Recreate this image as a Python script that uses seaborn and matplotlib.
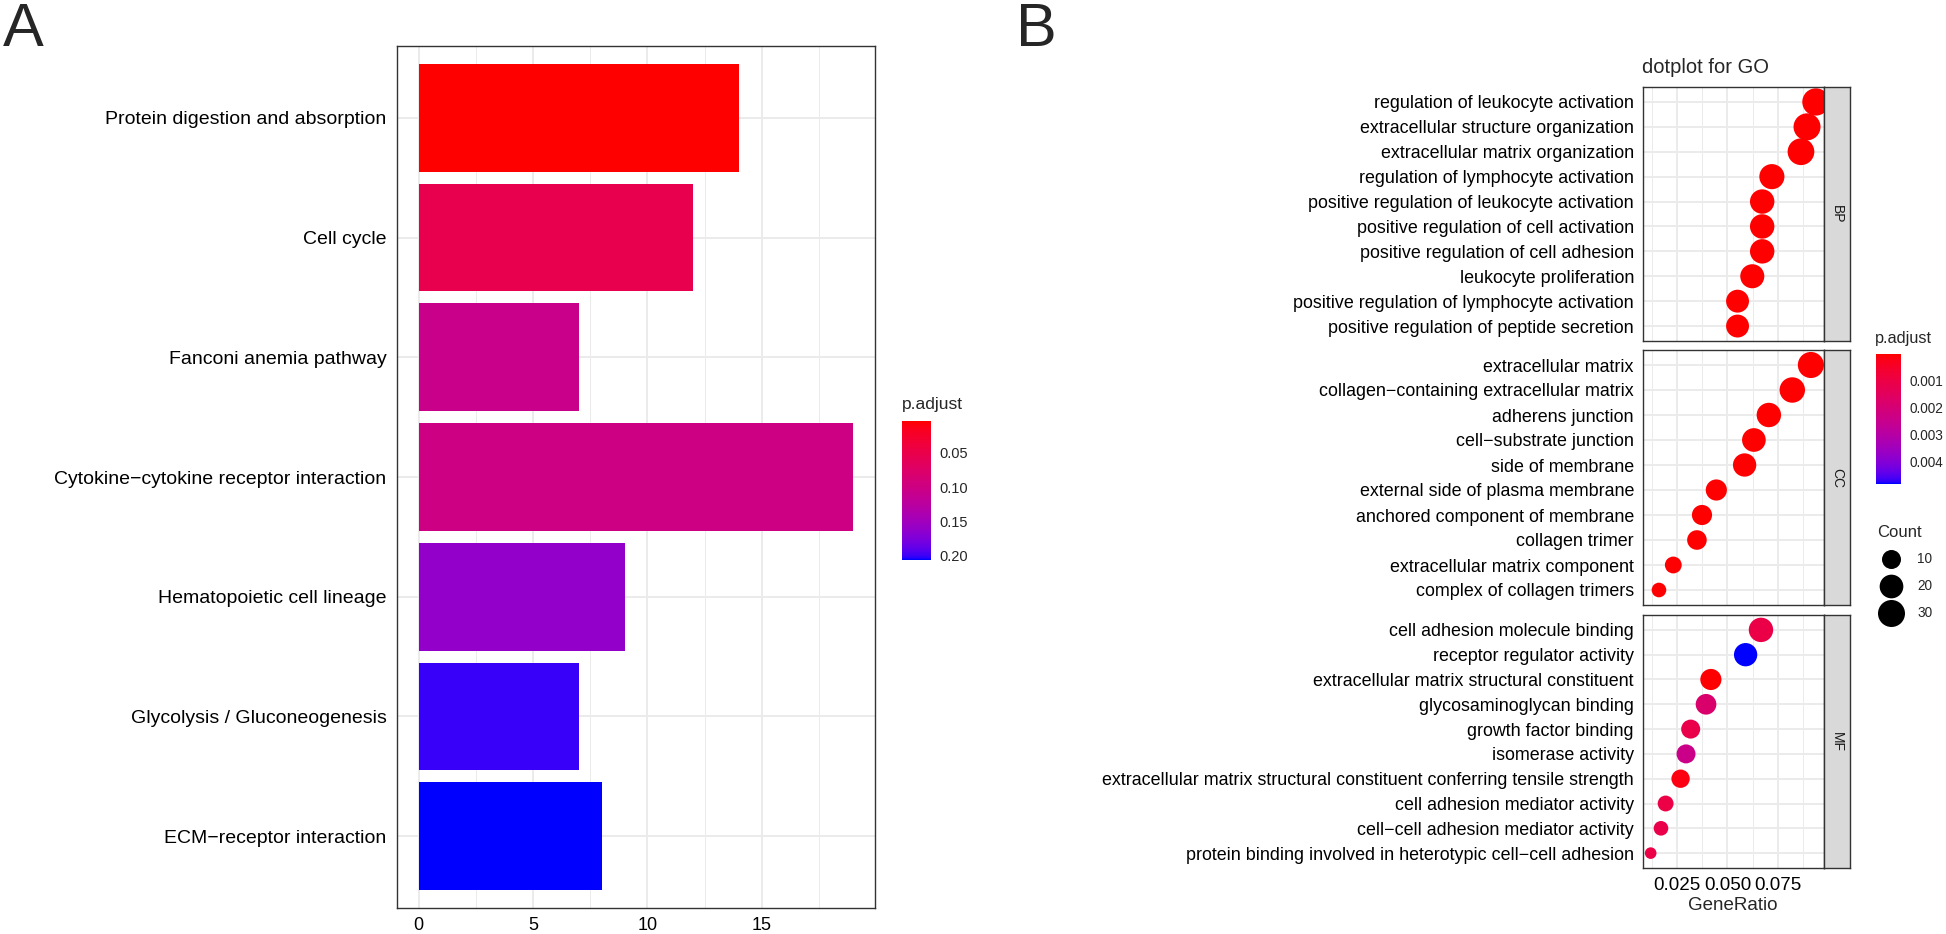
"""
KEGG barplot (A) and GO dotplot (B), ggplot/clusterProfiler look.
"""
import numpy as np
import pandas as pd
import matplotlib
matplotlib.use('Agg')
import matplotlib.pyplot as plt
import seaborn as sns
from matplotlib.colors import ListedColormap, Normalize
from matplotlib.cm import ScalarMappable
from matplotlib.lines import Line2D
from matplotlib.ticker import FixedLocator, FormatStrFormatter

# ---- panel A: KEGG ----
kegg_terms = ['Protein digestion and absorption', 'Cell cycle', 'Fanconi anemia pathway',
              'Cytokine\u2212cytokine receptor interaction', 'Hematopoietic cell lineage',
              'Glycolysis / Gluconeogenesis', 'ECM\u2212receptor interaction']
kegg_count = [14, 12, 7, 19, 9, 7, 8]
kegg_padj = [0.0035, 0.054, 0.105, 0.100, 0.161, 0.200, 0.206]

# ---- panel B: GO ----
bp_terms = ['regulation of leukocyte activation', 'extracellular structure organization',
            'extracellular matrix organization', 'regulation of lymphocyte activation',
            'positive regulation of leukocyte activation', 'positive regulation of cell activation',
            'positive regulation of cell adhesion', 'leukocyte proliferation',
            'positive regulation of lymphocyte activation', 'positive regulation of peptide secretion']
bp_ratio = [0.0938, 0.0894, 0.0864, 0.0720, 0.0672, 0.0672, 0.0672, 0.0623, 0.0550, 0.0550]
bp_count = [31, 30, 29, 24, 22, 22, 22, 21, 18, 18]
bp_padj = [1e-10, 1e-10, 2e-10, 5e-9, 1e-8, 1e-8, 2e-8, 5e-8, 1e-7, 2e-7]

cc_terms = ['extracellular matrix', 'collagen\u2212containing extracellular matrix',
            'adherens junction', 'cell\u2212substrate junction', 'side of membrane',
            'external side of plasma membrane', 'anchored component of membrane',
            'collagen trimer', 'extracellular matrix component', 'complex of collagen trimers']
cc_ratio = [0.0913, 0.0821, 0.0705, 0.0631, 0.0585, 0.0445, 0.0374, 0.0349, 0.0232, 0.0161]
cc_count = [27, 25, 22, 20, 19, 14, 12, 11, 7, 5]
cc_padj = [1e-12, 1e-11, 1e-7, 2e-7, 3e-7, 1e-6, 5e-6, 3e-6, 2e-5, 3e-5]

mf_terms = ['cell adhesion molecule binding', 'receptor regulator activity',
            'extracellular matrix structural constituent', 'glycosaminoglycan binding',
            'growth factor binding', 'isomerase activity',
            'extracellular matrix structural constituent conferring tensile strength',
            'cell adhesion mediator activity', 'cell\u2212cell adhesion mediator activity',
            'protein binding involved in heterotypic cell\u2212cell adhesion']
mf_ratio = [0.0666, 0.0590, 0.0418, 0.0394, 0.0318, 0.0295, 0.0268, 0.0194, 0.0171, 0.0120]
mf_count = [22, 19, 14, 13, 10, 10, 9, 6, 5, 4]
mf_padj = [0.00106, 0.00483, 0.00003, 0.0018, 0.0011, 0.0024, 0.00015, 0.0010, 0.0011, 0.0010]

count_breaks = [10, 20, 30]


# red -> blue gradient interpolated in CIELAB, like ggplot's scale_colour_gradient
M = np.array([[0.4124564, 0.3575761, 0.1804375],
              [0.2126729, 0.7151522, 0.0721750],
              [0.0193339, 0.1191920, 0.9503041]])
WHITE = np.array([0.95047, 1.0, 1.08883])
D = 6 / 29


def to_lab(rgb):
    c = np.asarray(rgb, float)
    lin = np.where(c <= 0.04045, c / 12.92, ((c + 0.055) / 1.055) ** 2.4)
    xyz = M @ lin / WHITE
    f = np.where(xyz > D ** 3, np.cbrt(xyz), xyz / (3 * D * D) + 4 / 29)
    return np.array([116 * f[1] - 16, 500 * (f[0] - f[1]), 200 * (f[1] - f[2])])


def from_lab(lab):
    fy = (lab[0] + 16) / 116
    f = np.array([fy + lab[1] / 500, fy, fy - lab[2] / 200])
    xyz = np.where(f > D, f ** 3, 3 * D * D * (f - 4 / 29)) * WHITE
    lin = np.clip(np.linalg.solve(M, xyz), 0, 1)
    return np.clip(np.where(lin <= 0.0031308, 12.92 * lin, 1.055 * lin ** (1 / 2.4) - 0.055), 0, 1)


lab_lo, lab_hi = to_lab([1, 0, 0]), to_lab([0, 0, 1])
cmap = ListedColormap([from_lab(lab_lo + t * (lab_hi - lab_lo)) for t in np.linspace(0, 1, 256)])

sns.set_style('white')
plt.rcParams['font.family'] = ['Liberation Sans', 'DejaVu Sans']

W, H = 1946, 934
fig = plt.figure(figsize=(W / 100, H / 100), dpi=100)


def box(l, t, r, b):
    return [l / W, 1 - b / H, (r - l) / W, (b - t) / H]


BORDER = '#333333'
GRID = '#EBEBEB'


def style_panel(ax):
    for s in ax.spines.values():
        s.set_color(BORDER)
        s.set_linewidth(1.0)
    ax.set_axisbelow(True)
    ax.grid(True, which='major', color=GRID, lw=1.4)
    ax.grid(True, which='minor', axis='x', color=GRID, lw=0.7)
    ax.tick_params(which='major', length=3.5, width=0.9, color=BORDER)
    ax.tick_params(which='minor', length=0)
    ax.set_xlabel('')
    ax.set_ylabel('')


def colorbar(rect, norm, ticks, fmt):
    cax = fig.add_axes(box(*rect))
    cb = fig.colorbar(ScalarMappable(norm=norm, cmap=cmap), cax=cax)
    cb.outline.set_visible(False)
    cax.invert_yaxis()
    cb.set_ticks(ticks)
    cb.set_ticklabels([fmt % t for t in ticks])
    cax.tick_params(axis='y', which='both', left=True, right=True, direction='in',
                    length=5, width=0.8, color='white', pad=6)
    cax.minorticks_off()
    return cax


# ---------------- panel A ----------------
normA = Normalize(min(kegg_padj), max(kegg_padj))
dfA = pd.DataFrame({'Description': kegg_terms, 'Count': kegg_count, 'p.adjust': kegg_padj})
barcols = {t: cmap(normA(p)) for t, p in zip(kegg_terms, kegg_padj)}

axA = fig.add_axes(box(397, 46, 875, 908))
sns.barplot(data=dfA, x='Count', y='Description', hue='Description', palette=barcols,
            saturation=1, width=0.9, linewidth=0, legend=False, ax=axA)
axA.set_xlim(-0.95, 19.95)
axA.set_ylim(len(kegg_terms) - 0.4, -0.6)
axA.xaxis.set_major_locator(FixedLocator([0, 5, 10, 15]))
axA.xaxis.set_minor_locator(FixedLocator([2.5, 7.5, 12.5, 17.5]))
style_panel(axA)
axA.tick_params(axis='y', labelsize=14, labelcolor='black', pad=4)
axA.tick_params(axis='x', labelsize=13, labelcolor='black', pad=3)

fig.text(902 / W, 1 - 405 / H, 'p.adjust', fontsize=12.5, va='center', ha='left')
colorbar((902, 421, 931, 560), normA, [0.05, 0.10, 0.15, 0.20], '%.2f').tick_params(labelsize=10.5)

fig.text(3 / W, 1 - 2 / H, 'A', fontsize=44, va='top', ha='left')
fig.text(1016 / W, 1 - 2 / H, 'B', fontsize=44, va='top', ha='left')

# ---------------- panel B ----------------
all_padj = bp_padj + cc_padj + mf_padj
normB = Normalize(0, max(all_padj))
all_counts = bp_count + cc_count + mf_count
cmin, cmax = min(all_counts), max(all_counts)


def dot_area(c):
    # dot diameter in px grows with sqrt of the rescaled count (ggplot area palette)
    t = np.clip((c - cmin) / (cmax - cmin), 0, 1)
    d = 11.6 + 15.7 * np.sqrt(t)
    return (d * 0.72) ** 2


facets = [('BP', bp_terms, bp_ratio, bp_count, bp_padj, (87, 341)),
          ('CC', cc_terms, cc_ratio, cc_count, cc_padj, (350, 605)),
          ('MF', mf_terms, mf_ratio, mf_count, mf_padj, (615, 868))]

for i, (ont, terms, ratio, count, padj, (top, bot)) in enumerate(facets):
    df = pd.DataFrame({'Description': terms, 'GeneRatio': ratio, 'Count': count, 'p.adjust': padj})
    ax = fig.add_axes(box(1643, top, 1824, bot))
    sns.scatterplot(data=df, x='GeneRatio', y='Description', hue='p.adjust', hue_norm=normB,
                    palette=cmap, size='Count', sizes={c: dot_area(c) for c in set(count)},
                    linewidth=0, alpha=1, legend=False, ax=ax)
    ax.set_xlim(0.0082, 0.0978)
    ax.set_ylim(len(terms) - 0.4, -0.6)
    ax.xaxis.set_major_locator(FixedLocator([0.025, 0.050, 0.075]))
    ax.xaxis.set_minor_locator(FixedLocator([0.0125, 0.0375, 0.0625, 0.0875]))
    ax.xaxis.set_major_formatter(FormatStrFormatter('%.3f'))
    style_panel(ax)
    ax.tick_params(axis='y', labelsize=12.9, labelcolor='black', pad=3)
    if i < 2:
        ax.tick_params(axis='x', bottom=False, labelbottom=False)
    else:
        ax.tick_params(axis='x', labelsize=13.5, labelcolor='black', pad=3)

    sax = fig.add_axes(box(1824, top, 1850, bot))
    sax.set_facecolor('#D9D9D9')
    sax.set_xticks([])
    sax.set_yticks([])
    for s in sax.spines.values():
        s.set_color(BORDER)
        s.set_linewidth(1.0)
    sax.text(0.5, 0.5, ont, rotation=270, ha='center', va='center', fontsize=10,
             color='#1A1A1A', transform=sax.transAxes)

fig.text(1642 / W, 1 - 73 / H, 'dotplot for GO', fontsize=14.5, va='baseline', ha='left')
fig.text(1733 / W, 1 - 905 / H, 'GeneRatio', fontsize=13.5, va='center', ha='center')

fig.text(1875 / W, 1 - 338 / H, 'p.adjust', fontsize=11.7, va='center', ha='left')
colorbar((1876, 354, 1901, 484), normB, [0.001, 0.002, 0.003, 0.004], '%.3f').tick_params(labelsize=9.8)

handles = [Line2D([], [], marker='o', ls='', color='black', markeredgewidth=0,
                  markersize=np.sqrt(dot_area(c))) for c in count_breaks]
fig.legend(handles, [str(c) for c in count_breaks], title='Count', loc='upper left',
           bbox_to_anchor=(1868 / W, 1 - 515 / H), frameon=False, fontsize=9.8,
           title_fontsize=12, labelspacing=0.95, handletextpad=0.9, borderpad=0.2,
           alignment='left')

fig.savefig('out.png', dpi=100)
